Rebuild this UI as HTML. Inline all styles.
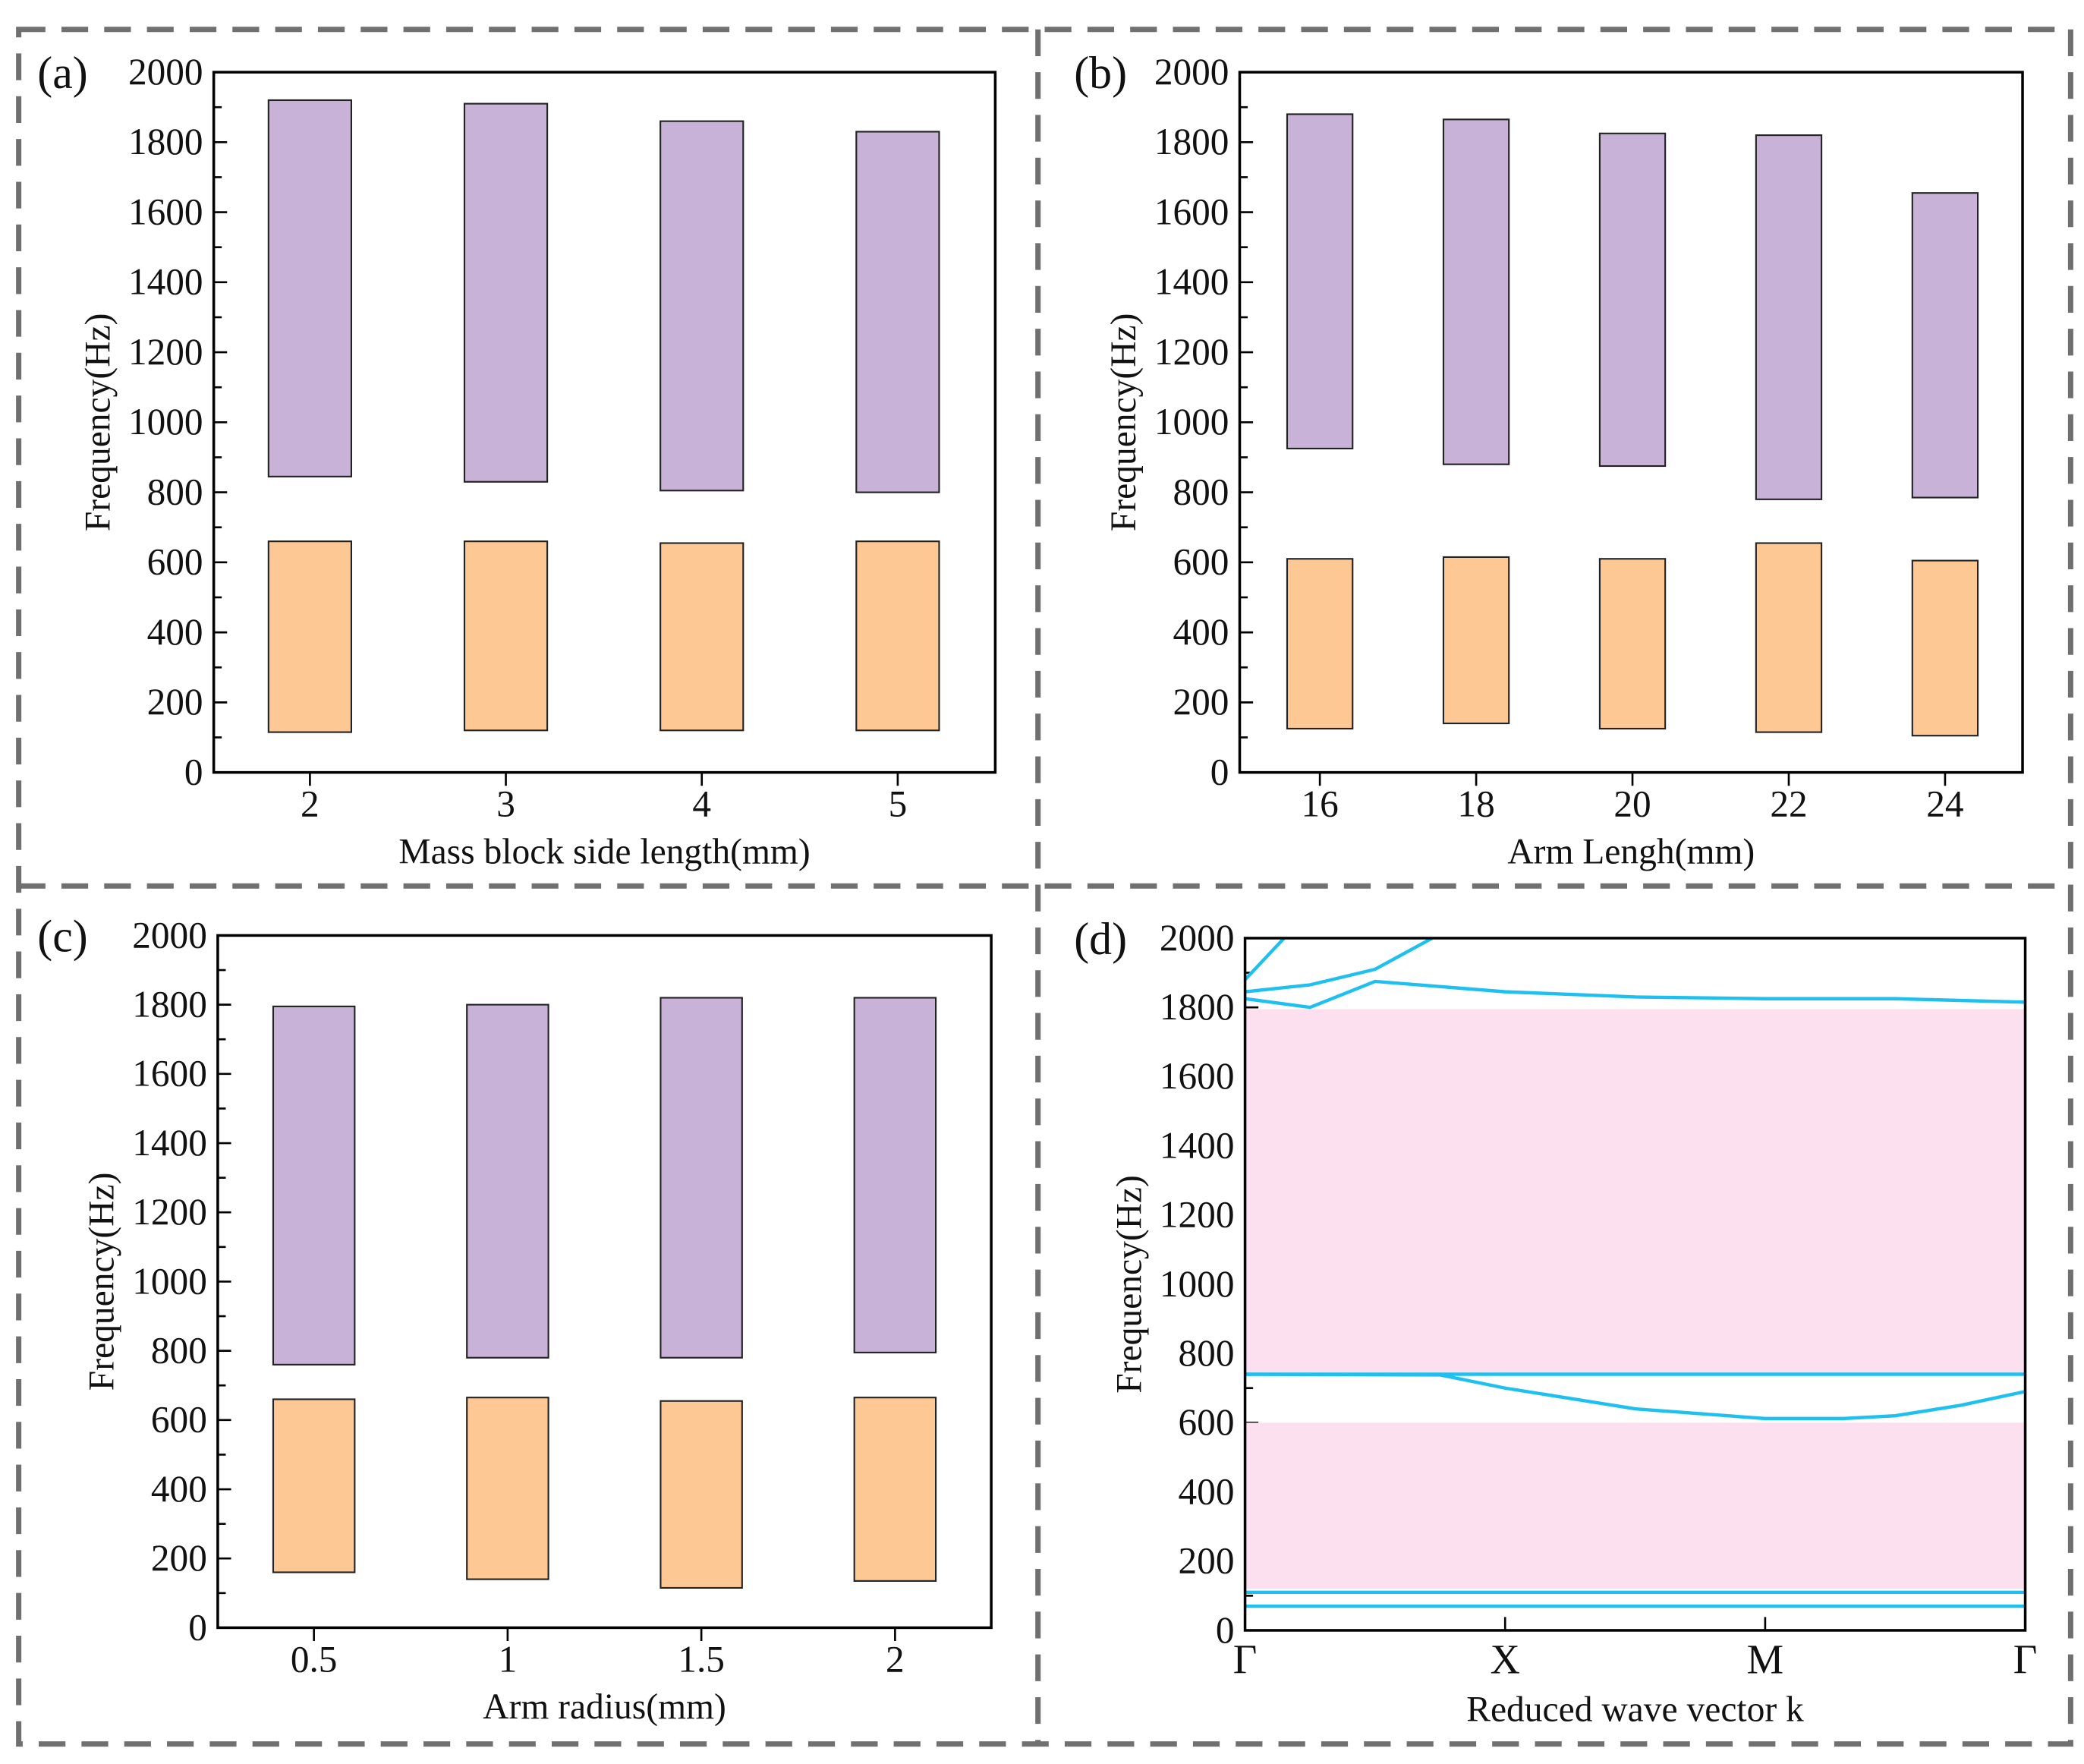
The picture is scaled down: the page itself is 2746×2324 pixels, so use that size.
<!DOCTYPE html>
<html><head><meta charset="utf-8"><style>
html,body{margin:0;padding:0;background:#fff}
svg{display:block}
svg text{font-family:"Liberation Serif","DejaVu Serif",serif;fill:#111}
</style></head><body>
<svg id="fig" width="2746" height="2324" viewBox="0 0 1560 1320" preserveAspectRatio="none" xmlns="http://www.w3.org/2000/svg" font-family="Liberation Serif, serif">
<g stroke="#707070" stroke-width="4" stroke-dasharray="20,12" fill="none">
<rect x="14" y="22" width="1536" height="1283"/>
<line x1="777" y1="22" x2="777" y2="1305"/>
<line x1="14" y1="663" x2="1550" y2="663"/>
</g>
</svg>
<script>
// Panel (a)
const catsA = ["2","3","4","5"];
const purpleLowA = [845,830,805,800];
const purpleHighA = [1920,1910,1860,1830];
const orangeLowA = [115,120,120,120];
const orangeHighA = [660,660,655,660];
// Panel (b)
const catsB = ["16","18","20","22","24"];
const purpleLowB = [925,880,875,780,785];
const purpleHighB = [1880,1865,1825,1820,1655];
const orangeLowB = [125,140,125,115,105];
const orangeHighB = [610,615,610,655,605];
// Panel (c)
const catsC = ["0.5","1","1.5","2"];
const purpleLowC = [760,780,780,795];
const purpleHighC = [1795,1800,1820,1820];
const orangeLowC = [160,140,115,135];
const orangeHighC = [660,665,655,665];
// Panel (d) band structure
const kLabels = ["Γ","X","M","Γ"];
const gapBands = [[120,600],[740,1795]];
const bandK1 = [0,3]; const bandF1 = [70,70];
const bandK2 = [0,3]; const bandF2 = [110,110];
const bandK3 = [0,3]; const bandF3 = [740,740];
const bandK4 = [0,0.75,1,1.5,2,2.3,2.5,2.75,3]; const bandF4 = [740,738,700,640,612,612,620,650,690];
const bandK5 = [0,0.25,0.5,1,1.5,2,2.5,3]; const bandF5 = [1825,1800,1875,1845,1830,1825,1825,1815];
const bandK6 = [0,0.25,0.5,0.72]; const bandF6 = [1845,1865,1910,2000];
const bandK7 = [0,0.15]; const bandF7 = [1880,2000];
const yTicks = [0,200,400,600,800,1000,1200,1400,1600,1800,2000];

const NS="http://www.w3.org/2000/svg";
const svg=document.getElementById('fig');
const FF='Liberation Serif, DejaVu Serif, serif';
function mk(tag,attrs,parent){const e=document.createElementNS(NS,tag);for(const k in attrs)e.setAttribute(k,attrs[k]);if(tag==='text')e.setAttribute('font-family',FF);(parent||svg).appendChild(e);return e;}

function axes(p){
  const g=mk('g',{});
  
  
  const y=v=>p.y1-(v/2000)*(p.y1-p.y0);
  p.yf=y;
  for(let v=100;v<2000;v+=200){const t=mk('line',{x1:p.x0,x2:p.x0+6,y1:y(v),y2:y(v),stroke:'#000','stroke-width':1.5},g);}
  yTicks.forEach(v=>{
    const t=mk('line',{x1:p.x0,x2:p.x0+10,y1:y(v),y2:y(v),stroke:'#000','stroke-width':1.5},g);
    
    const tx=mk('text',{x:p.x0-8,y:y(v)+9,'text-anchor':'end','font-size':28},g);tx.textContent=v;
    
  });
  const lbl=mk('text',{x:p.lx,y:p.y0+12,'font-size':34},g);lbl.textContent=p.letter;
  
  const yt=mk('text',{x:0,y:0,'text-anchor':'middle','font-size':27,transform:`translate(${p.x0-78},${(p.y0+p.y1)/2}) rotate(-90)`},g);yt.textContent='Frequency(Hz)';
  
  const xt=mk('text',{x:(p.x0+p.x1)/2,y:p.y1+68,'text-anchor':'middle','font-size':27},g);xt.textContent=p.xtitle;
  
  return g;
}
function frame(p,g){const r=mk('rect',{x:p.x0,y:p.y0,width:p.x1-p.x0,height:p.y1-p.y0,fill:'none',stroke:'#000','stroke-width':2},g);}

function barPanel(p,cats,pl,ph,ol,oh){
  const g=axes(p);const y=p.yf;
  const step=(p.c1-p.c0)/(cats.length-1);
  const x=i=>p.c0+i*step;
  cats.forEach((c,i)=>{
    const t=mk('line',{x1:x(i),x2:x(i),y1:p.y1,y2:p.y1+10,stroke:'#000','stroke-width':1.5},g);
    
    const tx=mk('text',{x:x(i),y:p.y1+33,'text-anchor':'middle','font-size':28},g);tx.textContent=c;
    
    const b1=mk('rect',{x:x(i)-p.bw/2,y:y(ph[i]),width:p.bw,height:y(pl[i])-y(ph[i]),fill:'#c9b2d8',stroke:'#222','stroke-width':1.2},g);
    
    const b2=mk('rect',{x:x(i)-p.bw/2,y:y(oh[i]),width:p.bw,height:y(ol[i])-y(oh[i]),fill:'#fdc894',stroke:'#222','stroke-width':1.2},g);
    
  });
  frame(p,g);
}
barPanel({name:'panel-a',letter:'(a)',lx:28,x0:160,x1:745,y0:54,y1:578,c0:232,c1:672,bw:62,xtitle:'Mass block side length(mm)'},catsA,purpleLowA,purpleHighA,orangeLowA,orangeHighA);
barPanel({name:'panel-b',letter:'(b)',lx:804,x0:928,x1:1514,y0:54,y1:578,c0:988,c1:1456,bw:49,xtitle:'Arm Lengh(mm)'},catsB,purpleLowB,purpleHighB,orangeLowB,orangeHighB);
barPanel({name:'panel-c',letter:'(c)',lx:28,x0:163,x1:742,y0:700,y1:1218,c0:235,c1:670,bw:61,xtitle:'Arm radius(mm)'},catsC,purpleLowC,purpleHighC,orangeLowC,orangeHighC);

// Panel d
(function(){
  const p={name:'panel-d',letter:'(d)',lx:804,x0:932,x1:1516,y0:702,y1:1220,xtitle:'Reduced wave vector k'};
  const g=axes(p);const y=p.yf;
  const x=k=>p.x0+k/3*(p.x1-p.x0);
  gapBands.forEach(b=>{const r=mk('rect',{x:p.x0,y:y(b[1]),width:p.x1-p.x0,height:y(b[0])-y(b[1]),fill:'#fde0ef'},g);});
  kLabels.forEach((l,i)=>{
    if(i>0&&i<3){const t=mk('line',{x1:x(i),x2:x(i),y1:p.y1,y2:p.y1-10,stroke:'#000','stroke-width':1.5},g);}
    const tx=mk('text',{x:x(i),y:p.y1+32,'text-anchor':'middle','font-size':31},g);tx.textContent=l;
    
  });
  const cp=mk('clipPath',{id:'clipd'},g);mk('rect',{x:p.x0,y:p.y0,width:p.x1-p.x0,height:p.y1-p.y0},cp);
  [[bandK1,bandF1],[bandK2,bandF2],[bandK3,bandF3],[bandK4,bandF4],[bandK5,bandF5],[bandK6,bandF6],[bandK7,bandF7]].forEach(([ks,fs])=>{
    const pts=ks.map((k,i)=>x(k)+','+y(fs[i])).join(' ');
    const pl=mk('polyline',{points:pts,fill:'none',stroke:'#1ec0f0','stroke-width':2.5,'clip-path':'url(#clipd)'},g);
    
  });
  frame(p,g);
})();
</script>
</body></html>
